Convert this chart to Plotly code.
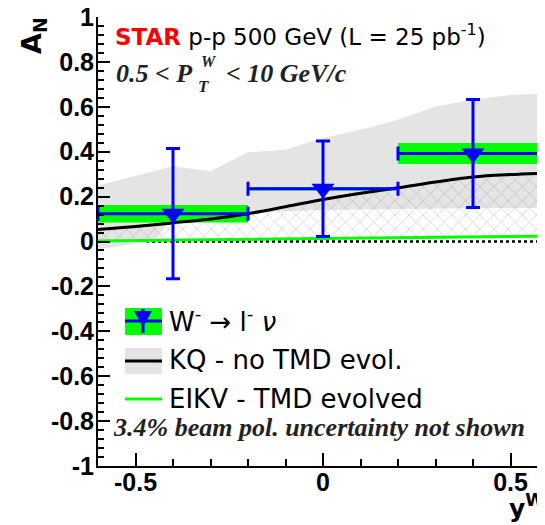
import plotly.graph_objects as go

# ---------------- data ----------------
# W- -> l- nu measurement
w_x = [-0.4, 0.0, 0.4]
w_xerr = [0.2, 0.2, 0.2]
w_y = [0.124, 0.235, 0.392]
w_stat = [0.29, 0.213, 0.24]
w_sys = [0.039, 0.008, 0.047]

# KQ - no TMD evolution (central curve)
kq_x = [-0.6, -0.5, -0.4, -0.3, -0.2, -0.1, 0.0, 0.1, 0.2, 0.3, 0.4, 0.5, 0.6]
kq_y = [0.053, 0.067, 0.083, 0.100, 0.124, 0.155, 0.187, 0.215, 0.239, 0.265, 0.287, 0.298, 0.305]

# KQ uncertainty band
band_up_x = [-0.6, -0.4, -0.3, -0.2, -0.1, 0.0, 0.1, 0.2, 0.3, 0.4, 0.5, 0.6]
band_up_y = [0.249, 0.335, 0.313, 0.397, 0.409, 0.461, 0.498, 0.542, 0.601, 0.631, 0.653, 0.661]
band_lo_x = [-0.6, -0.5, -0.45, -0.4, -0.3, -0.2, 0.0, 0.2, 0.4, 0.6]
band_lo_y = [-0.035, -0.01, 0.0, 0.11, 0.125, 0.132, 0.14, 0.145, 0.148, 0.15]

# EIKV - TMD evolved
eikv_x = [-0.6, -0.4, -0.2, 0.0, 0.2, 0.4, 0.6]
eikv_y = [0.002, 0.006, 0.010, 0.014, 0.018, 0.021, 0.024]

# axis ticks
y_tickvals = [-1, -0.8, -0.6, -0.4, -0.2, 0, 0.2, 0.4, 0.6, 0.8, 1]
y_ticktext = ["-1", "-0.8", "-0.6", "-0.4", "-0.2", "0", "0.2", "0.4", "0.6", "0.8", "1"]
x_tickvals = [-0.5, 0, 0.5]
x_ticktext = ["-0.5", "0", "0.5"]

# ---------------- figure ----------------
OFF = 8                      # page body margin of the html page
W, H = 545 - OFF, 525 - OFF  # figure size so that it fits in the window
# plot area in window pixels: left 98, right 545, top 17, bottom 466
L, R, T, B = 98 - OFF, 0, 17 - OFF, (H + OFF) - 466
BLUE = "#0000ff"
GREEN = "#00ff00"
GRAY = "#e4e4e4"
SANS = "DejaVu Sans"
TICKF = "Liberation Sans"
SERIF = "Liberation Serif"


def px(x):  # window pixel -> paper x
    return (x - OFF - L) / (W - L - R)


def py(y):  # window pixel -> paper y
    return (H - B - (y - OFF)) / (H - T - B)


fig = go.Figure()

# gray band (closed polygon)
fig.add_trace(go.Scatter(
    x=band_up_x + band_lo_x[::-1], y=band_up_y + band_lo_y[::-1],
    mode="lines", fill="toself", fillcolor=GRAY, line=dict(width=0),
    hoverinfo="skip", showlegend=False))

# hatched area between EIKV and KQ
fig.add_trace(go.Scatter(x=eikv_x, y=eikv_y, mode="lines", line=dict(width=0),
                         hoverinfo="skip", showlegend=False))
fig.add_trace(go.Scatter(
    x=kq_x, y=kq_y, mode="lines", line=dict(width=0), fill="tonexty",
    fillcolor="rgba(0,0,0,0)",
    fillpattern=dict(shape="x", size=10, solidity=0.14, fgcolor="#959595",
                     bgcolor="rgba(0,0,0,0)"),
    hoverinfo="skip", showlegend=False))

# systematic boxes
bx, by = [], []
for x, e, y, s in zip(w_x, w_xerr, w_y, w_sys):
    bx += [x - e, x + e, x + e, x - e, x - e, None]
    by += [y - s, y - s, y + s, y + s, y - s, None]
fig.add_trace(go.Scatter(x=bx, y=by, mode="lines", fill="toself", fillcolor=GREEN,
                         line=dict(width=0), hoverinfo="skip", showlegend=False))

# EIKV line
fig.add_trace(go.Scatter(x=eikv_x, y=eikv_y, mode="lines",
                         line=dict(color=GREEN, width=3), showlegend=False))
# KQ line
fig.add_trace(go.Scatter(x=kq_x, y=kq_y, mode="lines", line_shape="spline",
                         line=dict(color="black", width=3), showlegend=False))

# data points
fig.add_trace(go.Scatter(
    x=w_x, y=w_y, mode="markers",
    marker=dict(symbol="triangle-down", size=20, color=BLUE),
    error_x=dict(type="data", array=w_xerr, color=BLUE, thickness=3, width=7),
    error_y=dict(type="data", array=w_stat, color=BLUE, thickness=3, width=7),
    showlegend=False))

P = dict(xref="paper", yref="paper")
shapes = [
    dict(type="line", xref="paper", yref="y", x0=0, x1=1, y0=0, y1=0,
         line=dict(color="black", width=2.5, dash="dot"), layer="below"),
    # legend symbols
    dict(type="rect", **P, x0=px(125), x1=px(162), y0=py(335), y1=py(308),
         fillcolor=GREEN, line=dict(width=0)),
    dict(type="line", **P, x0=px(125), x1=px(162), y0=py(321), y1=py(321),
         line=dict(color=BLUE, width=3)),
    dict(type="line", **P, x0=px(143), x1=px(143), y0=py(309), y1=py(333),
         line=dict(color=BLUE, width=3)),
    dict(type="path", **P,
         path=f"M {px(134)} {py(311)} L {px(152)} {py(311)} L {px(143)} {py(327)} Z",
         fillcolor=BLUE, line=dict(width=0)),
    dict(type="rect", **P, x0=px(125), x1=px(162), y0=py(374), y1=py(348),
         fillcolor=GRAY, line=dict(width=0)),
    dict(type="line", **P, x0=px(125), x1=px(162), y0=py(361), y1=py(361),
         line=dict(color="black", width=3)),
    dict(type="line", **P, x0=px(125), x1=px(162), y0=py(399), y1=py(399),
         line=dict(color=GREEN, width=3)),
]

ann = [
    dict(text="<span style='color:#ff0000'><b>STAR</b></span> p-p 500 GeV (L = 25 pb<sup>-1</sup>)",
         x=px(113), y=py(35), xanchor="left", yanchor="middle",
         font=dict(family=SANS, size=23, color="black")),
    dict(text="<b><i>0.5 &lt; P</i></b>", x=px(114), y=py(74), xanchor="left", yanchor="middle",
         font=dict(family=SERIF, size=26, color="#222")),
    dict(text="<b><i>W</i></b>", x=px(199), y=py(61), xanchor="left", yanchor="middle",
         font=dict(family=SERIF, size=16, color="#222")),
    dict(text="<b><i>T</i></b>", x=px(196), y=py(86), xanchor="left", yanchor="middle",
         font=dict(family=SERIF, size=17, color="#222")),
    dict(text="<b><i>&lt; 10 GeV/c</i></b>", x=px(224), y=py(74), xanchor="left", yanchor="middle",
         font=dict(family=SERIF, size=26, color="#222")),
    dict(text="W<sup>-</sup> → l<sup>-</sup> <i>ν</i>", x=px(167), y=py(320), xanchor="left",
         yanchor="middle", font=dict(family=SANS, size=26, color="black")),
    dict(text="KQ - no TMD evol.", x=px(167), y=py(360), xanchor="left",
         yanchor="middle", font=dict(family=SANS, size=26, color="black")),
    dict(text="EIKV - TMD evolved", x=px(167), y=py(399), xanchor="left",
         yanchor="middle", font=dict(family=SANS, size=26, color="black")),
    dict(text="<b><i>3.4% beam pol. uncertainty not shown</i></b>", x=px(111), y=py(427),
         xanchor="left", yanchor="middle", font=dict(family=SERIF, size=26, color="#222")),
    dict(text="<b>A<sub>N</sub></b>", x=px(33), y=py(36), xanchor="center", yanchor="middle",
         textangle=-90, font=dict(family=SANS, size=27, color="black")),
    dict(text="<b>y<sup>W</sup></b>", x=px(547), y=py(507), xanchor="right", yanchor="middle",
         font=dict(family=SANS, size=25, color="black")),
]
for a in ann:
    a.update(P, showarrow=False)

fig.update_layout(
    width=W, height=H,
    margin=dict(l=L, r=R, t=T, b=B, autoexpand=False),
    paper_bgcolor="white", plot_bgcolor="white",
    showlegend=False,
    shapes=shapes, annotations=ann,
    xaxis=dict(range=[-0.6, 0.592], showline=True, linecolor="black", linewidth=2,
               automargin=False, ticklabeloverflow="allow", ticklabelstandoff=-7,
               ticks="inside", ticklen=13, tickwidth=2, tickcolor="black",
               tickmode="array", tickvals=x_tickvals, ticktext=x_ticktext,
               minor=dict(tickmode="linear", tick0=0, dtick=0.1, ticks="inside",
                          ticklen=7, tickwidth=2, tickcolor="black"),
               showgrid=False, zeroline=False,
               tickfont=dict(family=TICKF, size=25, color="black", weight="bold")),
    yaxis=dict(range=[-1, 1], showline=True, linecolor="black", linewidth=2,
               automargin=False, ticklabeloverflow="allow", ticklabelstandoff=-3,
               ticks="inside", ticklen=12, tickwidth=2, tickcolor="black",
               tickmode="array", tickvals=y_tickvals, ticktext=y_ticktext,
               minor=dict(tickmode="linear", tick0=0, dtick=0.04, ticks="inside",
                          ticklen=6, tickwidth=2, tickcolor="black"),
               showgrid=False, zeroline=False,
               tickfont=dict(family=TICKF, size=25, color="black", weight="bold")),
)

fig.write_html("out.html")
